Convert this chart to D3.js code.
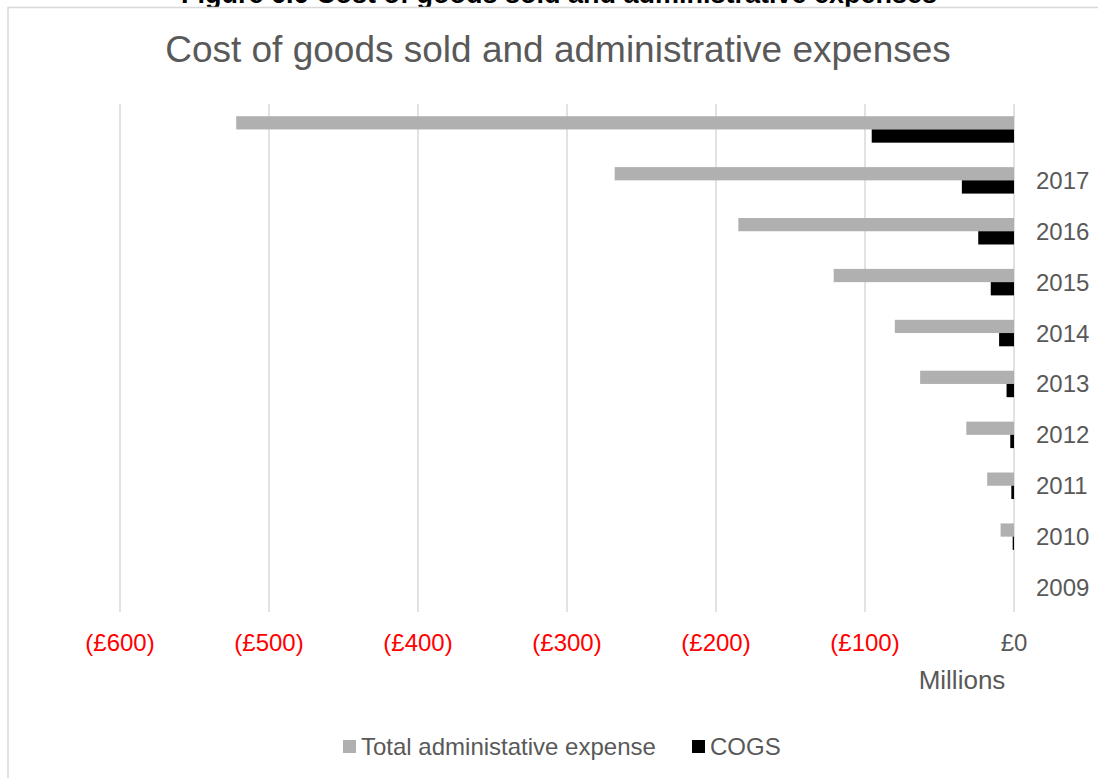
<!DOCTYPE html>
<html>
<head>
<meta charset="utf-8">
<script src="https://cdn.jsdelivr.net/npm/d3@7"></script>
<style>
  html, body { margin: 0; padding: 0; background: #fff; }
  svg { display: block; font-family: "Liberation Sans", Arial, sans-serif; }
</style>
</head>
<body>
<svg id="chart" width="1098" height="778"></svg>
<script>
// Years shown on the category axis (top band carries no label)
const categories = ["", "2017", "2016", "2015", "2014", "2013", "2012", "2011", "2010", "2009"];
// £ millions, plotted as negatives (costs)
const adminExpense = [-522, -268, -185, -121, -80, -63, -32, -18, -9, 0];
const cogs = [-95.5, -35, -24, -15.6, -10, -5, -2.5, -1.8, -0.9, 0];
const xTicks = [-600, -500, -400, -300, -200, -100, 0];
const seriesNames = ["Total administative expense", "COGS"];
const seriesColors = ["#B0B0B0", "#000000"];

const svg = d3.select("#chart");
const textGray = "#595959";
const gridGray = "#D9D9D9";

// Caption above the chart box
svg.append("text")
  .attr("x", 559).attr("y", 3)
  .attr("text-anchor", "middle")
  .attr("font-weight", "bold")
  .attr("font-size", 27)
  .attr("fill", "#000")
  .text("Figure 6.6 Cost of goods sold and administrative expenses");

// Chart area frame
svg.append("rect")
  .attr("x", 8).attr("y", 7.5)
  .attr("width", 1100).attr("height", 800)
  .attr("fill", "#fff")
  .attr("stroke", gridGray).attr("stroke-width", 1.5);

// Chart title
svg.append("text")
  .attr("x", 558).attr("y", 62)
  .attr("text-anchor", "middle")
  .attr("font-size", 37)
  .attr("fill", textGray)
  .text("Cost of goods sold and administrative expenses");

const x = d3.scaleLinear().domain([-600, 0]).range([120, 1014]);
const y = d3.scaleBand().domain(categories).range([104, 613]).padding(0);
const plotTop = 104, plotBottom = 612;

// Vertical gridlines (with tick stubs reaching the bottom)
svg.append("g").selectAll("line")
  .data(xTicks).join("line")
  .attr("x1", d => x(d)).attr("x2", d => x(d))
  .attr("y1", plotTop).attr("y2", plotBottom)
  .attr("stroke", gridGray).attr("stroke-width", 1.5);

// Value axis labels: negatives in red brackets
const fmt = d => d < 0 ? "(£" + Math.abs(d) + ")" : "£" + d;
svg.append("g").selectAll("text")
  .data(xTicks).join("text")
  .attr("x", d => x(d)).attr("y", 650.5)
  .attr("text-anchor", "middle")
  .attr("font-size", 24)
  .attr("fill", d => d < 0 ? "#FF0000" : textGray)
  .text(fmt);

svg.append("text")
  .attr("x", 962).attr("y", 688.5)
  .attr("text-anchor", "middle")
  .attr("font-size", 26)
  .attr("fill", textGray)
  .text("Millions");

// Bars
const barH = y.bandwidth() * 0.26;
const series = [adminExpense, cogs];
series.forEach((vals, si) => {
  svg.append("g").selectAll("rect")
    .data(vals.map((v, i) => ({ cat: categories[i], v })))
    .join("rect")
    .attr("x", d => x(Math.min(0, d.v)))
    .attr("width", d => Math.abs(x(d.v) - x(0)))
    .attr("y", d => y(d.cat) + y.bandwidth() / 2 - barH + si * barH)
    .attr("height", barH)
    .attr("fill", seriesColors[si]);
});

// Category labels on the right of the zero line
svg.append("g").selectAll("text")
  .data(categories).join("text")
  .attr("x", 1036)
  .attr("y", d => y(d) + y.bandwidth() / 2 + 8.5)
  .attr("font-size", 24)
  .attr("fill", textGray)
  .text(d => d);

// Legend
const legendX = [343, 692];
const lg = svg.append("g");
seriesNames.forEach((name, i) => {
  lg.append("rect")
    .attr("x", legendX[i]).attr("y", 740)
    .attr("width", 13).attr("height", 13)
    .attr("fill", seriesColors[i]);
  lg.append("text")
    .attr("x", legendX[i] + 18).attr("y", 754.5)
    .attr("font-size", 24)
    .attr("fill", textGray)
    .text(name);
});
</script>
</body>
</html>
